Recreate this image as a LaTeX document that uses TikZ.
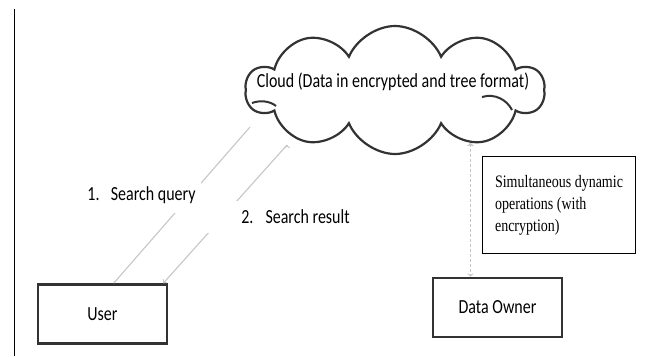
\documentclass[tikz,border=0pt]{standalone}
\usepackage{amsmath,amssymb}
\usepackage{xcolor}
\usepackage{fontspec}
\setmainfont{Carlito}
\newfontfamily\boxfont{Liberation Serif}
\usepackage{tikz}
\usetikzlibrary{shapes.symbols}

\definecolor{edgegray}{HTML}{333333}
\definecolor{linkgray}{HTML}{C6C6C6}
\newcommand{\narrow}[1]{\scalebox{0.8}[1]{#1}}

\begin{document}
\begin{tikzpicture}[x=1pt,y=-1pt,font=\fontsize{20}{24}\selectfont,
    actor/.style={rectangle,draw=edgegray,line width=2.6pt,minimum width=129pt,minimum height=59pt},
    flow/.style={draw=linkgray,line width=1.1pt},
    tag/.style={fill=white,inner ysep=9pt}]
    \useasboundingbox (0,0) rectangle (652,356);

    \draw[line width=1.5pt] (14.7,9) -- (14.7,356);

    \node[cloud,cloud puffs=10,cloud puff arc=135,draw=edgegray,line width=2.2pt,minimum width=298pt,minimum height=128pt] (cloud) at (395,90) {};
    % small inner strokes of the cloud
    \draw[edgegray,line width=2pt] (252,103) .. controls (260,100) and (270,101) .. (276,106);
    \draw[edgegray,line width=2pt] (482,97) .. controls (495,93) and (507,100) .. (512,110);
    \node (cloudtxt) at (393,82) {\narrow{Cloud (Data in encrypted and tree format)}};

    \node[actor] (user) at (102.5,314) {\narrow{User}};
    \node[actor] (owner) at (497.5,307.5) {\narrow{Data Owner}};
    \node[draw,line width=1.4pt,minimum width=153pt,minimum height=97pt,font=\boxfont\fontsize{17.5}{22}\selectfont] (ops) at (559,205) {\narrow{\begin{tabular}{@{}l@{}}Simultaneous dynamic\\operations (with\\encryption)\end{tabular}}};

    \coordinate (qtop) at (250,127);
    \coordinate (rtop) at (287,145);
    \coordinate (sync) at (470.5,143);

    \path [flow] ([xshift=77pt]user.north west) edge (qtop);
    \path [flow,->] (rtop) edge ([xshift=-5pt]user.north east);
    \path [flow,<->,dash pattern=on 3pt off 2pt] (sync) edge (sync |- owner.north);

    \node[tag,inner xsep=5pt] (query) at (141.5,195) {\narrow{1.\hspace{14pt}Search query}};
    \node[tag,inner xsep=36pt] (result) at (295.5,217) {\narrow{2.\hspace{15pt}Search result}};
\end{tikzpicture}
\end{document}
